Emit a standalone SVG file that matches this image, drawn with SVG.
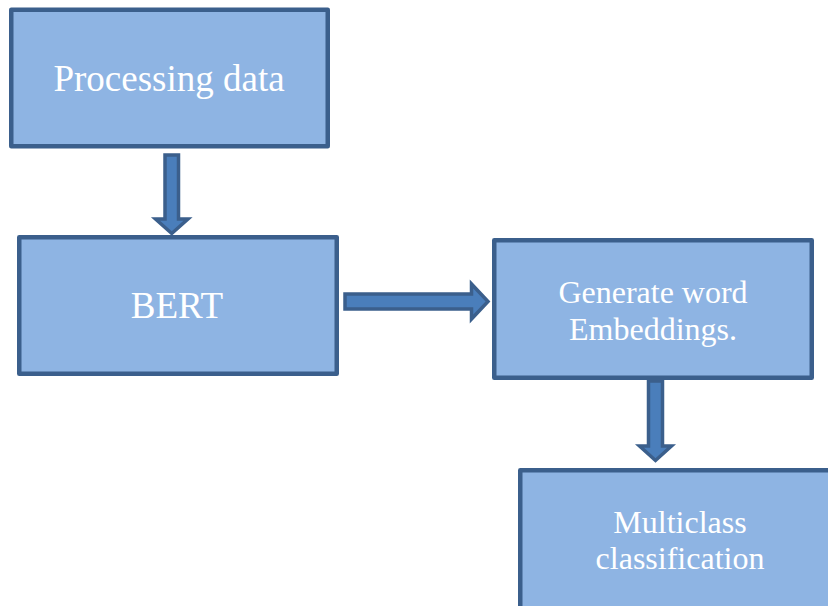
<svg xmlns="http://www.w3.org/2000/svg" width="828" height="606" viewBox="0 0 828 606">
<style>
.box{fill:#8eb4e3;stroke:#3b5f8c;stroke-width:4.5;stroke-linejoin:round}
.arr{fill:#4a7ebb;stroke:#3b5f8c;stroke-width:3.5;stroke-linejoin:miter}
.t{font-family:"Liberation Serif","Times New Roman",serif;fill:#ffffff;text-anchor:middle}
</style>
<rect width="828" height="606" fill="#ffffff"/>
<g id="connectors">
<path class="arr" d="M165,155 H178.5 V219 H188 L171.75,233.5 L155.5,219 H165 Z"/>
<path class="arr" d="M345,294 H471.5 V284 L488,301.5 L471.5,319 V309 H345 Z"/>
<path class="arr" d="M648.5,381 H662.5 V446 H671.5 L655.5,460.5 L639.5,446 H648.5 Z"/>
</g>
<g id="processing">
<rect class="box" x="11.25" y="9.75" width="316.5" height="136.5"/>
<text class="t" x="169" y="91" font-size="37">Processing data</text>
</g>
<g id="bert">
<rect class="box" x="19.25" y="237.25" width="317.5" height="136.5"/>
<text class="t" x="177" y="318" font-size="37">BERT</text>
</g>
<g id="embeddings">
<rect class="box" x="494.25" y="240.25" width="317.5" height="137.5"/>
<text class="t" x="653" y="303" font-size="32">Generate word</text>
<text class="t" x="653" y="340" font-size="32">Embeddings.</text>
</g>
<g id="multiclass">
<rect class="box" x="520.25" y="470.25" width="320" height="150"/>
<text class="t" x="680" y="533" font-size="32">Multiclass</text>
<text class="t" x="680" y="569" font-size="32">classification</text>
</g>
</svg>
